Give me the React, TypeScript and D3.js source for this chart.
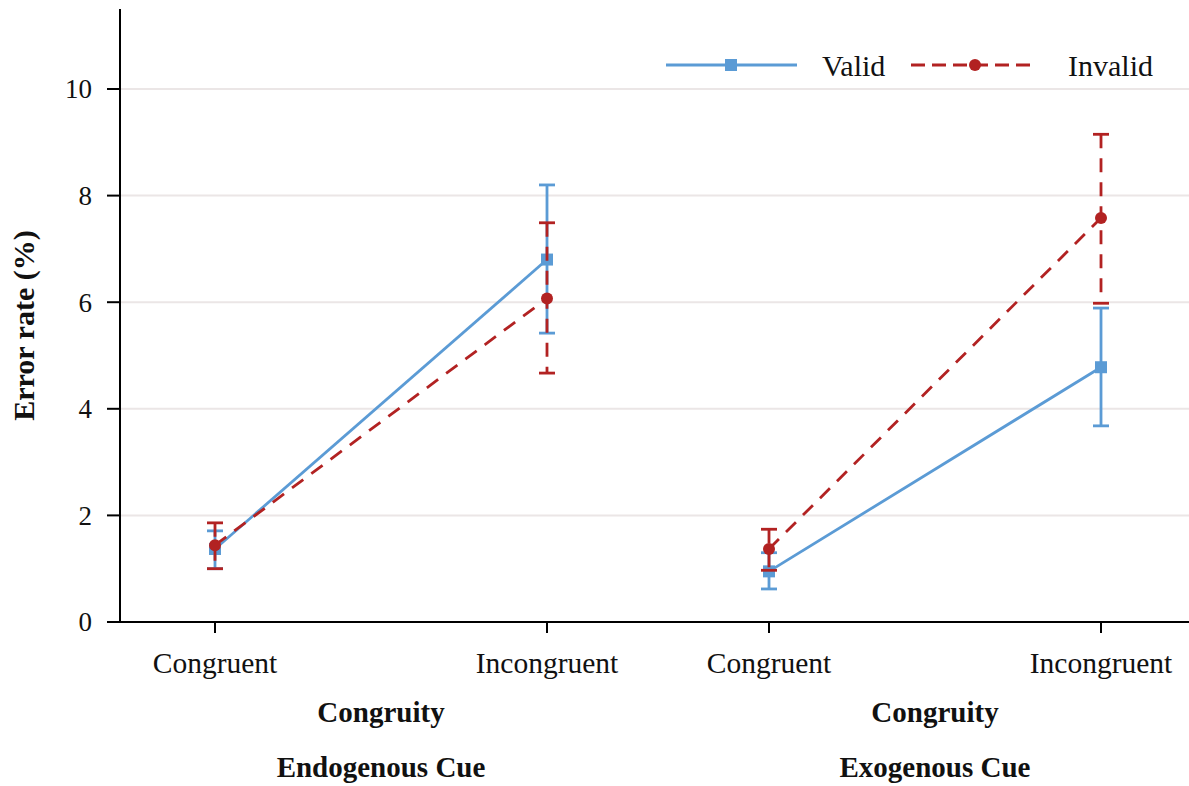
import React from "react";
import * as d3 from "d3";

const cues = ["Endogenous Cue", "Exogenous Cue"];
const congruity = ["Congruent", "Incongruent"];
const seriesNames = ["Valid", "Invalid"];
// values per cue x congruity: [Endo-Cong, Endo-Incong, Exo-Cong, Exo-Incong]
const validMean = [1.37, 6.8, 0.95, 4.78];
const validLow = [1.0, 5.42, 0.62, 3.68];
const validHigh = [1.71, 8.2, 1.3, 5.89];
const invalidMean = [1.44, 6.07, 1.37, 7.58];
const invalidLow = [1.0, 4.67, 0.97, 5.98];
const invalidHigh = [1.86, 7.49, 1.74, 9.15];
const yTicks = [0, 2, 4, 6, 8, 10];

const W = 1189;
const H = 786;
const BLUE = "#5b9bd5";
const RED = "#b22222";
const FONT = "'Liberation Serif', 'Times New Roman', serif";
const SW = 2.8;

export default function App() {
  const y = d3.scaleLinear().domain([0, 10]).range([622, 89]);
  const outer = d3.scaleBand().domain(cues).range([104, 1212]);
  const inner = d3.scalePoint().domain(congruity).range([-166, 166]);
  const xPos = (ci: number, gi: number) =>
    (outer(cues[ci]) as number) + outer.bandwidth() / 2 + (inner(congruity[gi]) as number);

  const series = [
    { name: seriesNames[0], mean: validMean, low: validLow, high: validHigh, color: BLUE, dash: undefined as string | undefined, shape: "square" },
    { name: seriesNames[1], mean: invalidMean, low: invalidLow, high: invalidHigh, color: RED, dash: "14,10", shape: "circle" },
  ];

  const line = d3.line<[number, number]>().x((d) => d[0]).y((d) => d[1]);

  const yTop = y(11.5);

  return (
    <svg width={W} height={H} style={{ position: "absolute", left: 0, top: 0, background: "#fff" }} fontFamily={FONT}>
      <rect x={0} y={0} width={W} height={H} fill="#fff" />
      {/* grid */}
      {yTicks.filter((t) => t > 0).map((t) => (
        <line key={t} x1={121} x2={W} y1={y(t)} y2={y(t)} stroke="#ebe6e6" strokeWidth={2} />
      ))}
      {/* axes */}
      <line x1={120} x2={120} y1={yTop} y2={y(0)} stroke="#000" strokeWidth={2} />
      <line x1={119} x2={W} y1={y(0)} y2={y(0)} stroke="#000" strokeWidth={2} />
      {yTicks.map((t) => (
        <g key={t}>
          <line x1={107} x2={120} y1={y(t)} y2={y(t)} stroke="#000" strokeWidth={2} />
          <text x={92} y={y(t)} dy="0.35em" textAnchor="end" fontSize={27} fill="#111">
            {t}
          </text>
        </g>
      ))}
      <text
        transform={`translate(34, ${(y(0) + yTop) / 2 + 10}) rotate(-90)`}
        textAnchor="middle"
        fontSize={30}
        fontWeight="bold"
        fill="#111"
      >
        Error rate (%)
      </text>
      {/* x ticks and labels */}
      {cues.map((c, ci) => (
        <g key={c}>
          {congruity.map((g, gi) => (
            <g key={g}>
              <line x1={xPos(ci, gi)} x2={xPos(ci, gi)} y1={y(0)} y2={y(0) + 11} stroke="#000" strokeWidth={2} />
              <text x={xPos(ci, gi)} y={673} textAnchor="middle" fontSize={29.5} fill="#111">
                {g}
              </text>
            </g>
          ))}
          <text x={(outer(c) as number) + outer.bandwidth() / 2} y={722} textAnchor="middle" fontSize={29} fontWeight="bold" fill="#111">
            Congruity
          </text>
          <text x={(outer(c) as number) + outer.bandwidth() / 2} y={777} textAnchor="middle" fontSize={29} fontWeight="bold" fill="#111">
            {c}
          </text>
        </g>
      ))}
      {/* series */}
      {series.map((s) => (
        <g key={s.name}>
          {cues.map((c, ci) => {
            const pts: [number, number][] = congruity.map((g, gi) => [xPos(ci, gi), y(s.mean[ci * 2 + gi])]);
            return (
              <g key={c}>
                <path d={line(pts) as string} fill="none" stroke={s.color} strokeWidth={SW} strokeDasharray={s.dash} />
                {congruity.map((g, gi) => {
                  const i = ci * 2 + gi;
                  const x = xPos(ci, gi);
                  return (
                    <g key={g}>
                      <line x1={x} x2={x} y1={y(s.high[i])} y2={y(s.low[i])} stroke={s.color} strokeWidth={SW} strokeDasharray={s.dash} />
                      <line x1={x - 8} x2={x + 8} y1={y(s.low[i])} y2={y(s.low[i])} stroke={s.color} strokeWidth={SW} />
                      <line x1={x - 8} x2={x + 8} y1={y(s.high[i])} y2={y(s.high[i])} stroke={s.color} strokeWidth={SW} />
                      {s.shape === "square" ? (
                        <rect x={x - 6} y={y(s.mean[i]) - 6} width={12} height={12} fill={s.color} />
                      ) : (
                        <circle cx={x} cy={y(s.mean[i])} r={6} fill={s.color} />
                      )}
                    </g>
                  );
                })}
              </g>
            );
          })}
        </g>
      ))}
      {/* legend */}
      <g>
        <line x1={666} x2={797} y1={65} y2={65} stroke={BLUE} strokeWidth={SW} />
        <rect x={731 - 6} y={65 - 6} width={12} height={12} fill={BLUE} />
        <text x={822} y={65} dy="0.35em" fontSize={30} fill="#111">
          {seriesNames[0]}
        </text>
        <line x1={911} x2={1035} y1={65} y2={65} stroke={RED} strokeWidth={SW} strokeDasharray="14,7" />
        <circle cx={975} cy={65} r={6} fill={RED} />
        <text x={1068} y={65} dy="0.35em" fontSize={30} fill="#111">
          {seriesNames[1]}
        </text>
      </g>
    </svg>
  );
}
